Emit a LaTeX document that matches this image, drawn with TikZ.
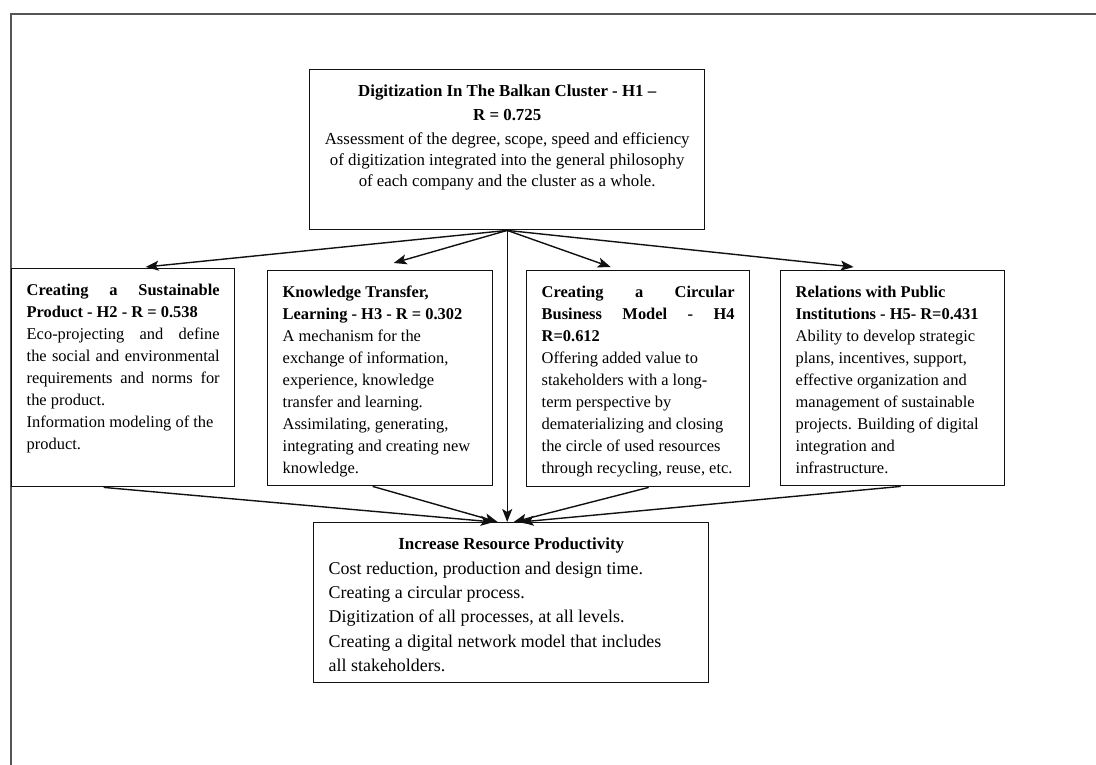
\documentclass[tikz,border=0pt]{standalone}
\usepackage{fontspec}
\setmainfont{Liberation Serif}
\usetikzlibrary{arrows.meta}
\definecolor{ink}{HTML}{111111}
\definecolor{frame}{HTML}{555555}
\newcommand{\firstline}{\rule{0pt}{21bp}}

\begin{document}
\begin{tikzpicture}[x=1bp,y=-1bp,>={Stealth[length=13bp,width=10bp,inset=3bp]},
  every node/.style={font=\fontsize{16.5}{22}\selectfont},
  hyp/.style={draw=ink,line width=1.4bp,anchor=north west,inner xsep=15bp,inner ysep=6bp},
  link/.style={->,ink,line width=1.4bp}]
\useasboundingbox (0,0) rectangle (1096,765);
\draw[frame,line width=1.5bp] (11,765) -- (11,14) -- (1096,14);

% main hypothesis
\node[hyp] (h1) at (309,69) {\parbox[c][148bp][t]{365bp}{\centering\fontsize{16.9}{21}\selectfont
  \firstline\textbf{Digitization In The Balkan Cluster - H1 –}\\[3bp]
  \textbf{R = 0.725}\\[3bp]
  Assessment of the degree, scope, speed and efficiency\\
  of digitization integrated into the general philosophy\\
  of each company and the cluster as a whole.}};

% sub-hypotheses
\node[hyp] (h2) at (11,268) {\parbox[c][206bp][t]{193bp}{\raggedright
  \firstline\makebox[\linewidth][s]{\bfseries Creating a Sustainable}\\
  \textbf{Product - H2 - R = 0.538}\\
  \makebox[\linewidth][s]{Eco-projecting and define}\\
  \makebox[\linewidth][s]{the social and environmental}\\
  \makebox[\linewidth][s]{requirements and norms for}\\
  the product.\\
  Information modeling of the\\
  product.}};
\node[hyp] (h3) at (267,270) {\parbox[c][203bp][t]{195bp}{\raggedright
  \firstline\textbf{Knowledge Transfer,}\\
  \textbf{Learning - H3 - R = 0.302}\\
  A mechanism for the\\
  exchange of information,\\
  experience, knowledge\\
  transfer and learning.\\
  Assimilating, generating,\\
  integrating and creating new\\
  knowledge.}};
\node[hyp] (h4) at (526,270) {\parbox[c][204bp][t]{193bp}{\raggedright
  \firstline\makebox[\linewidth][s]{\bfseries Creating a Circular}\\
  \makebox[\linewidth][s]{\bfseries Business Model - H4}\\
  \textbf{R=0.612}\\
  Offering added value to\\
  stakeholders with a long-\\
  term perspective by\\
  dematerializing and closing\\
  the circle of used resources\\
  \mbox{through recycling, reuse, etc.}}};
\node[hyp] (h5) at (780,270) {\parbox[c][203bp][t]{194bp}{\raggedright
  \firstline\textbf{Relations with Public}\\
  \textbf{Institutions - H5- R=0.431}\\
  Ability to develop strategic\\
  plans, incentives, support,\\
  effective organization and\\
  management of sustainable\\
  projects. Building of digital\\
  integration and\\
  infrastructure.}};

% outcome
\node[hyp] (res) at (313,522) {\parbox[c][148bp][t]{365bp}{\fontsize{18}{24.5}\selectfont
  {\centering\fontsize{17}{24.5}\selectfont\firstline\textbf{Increase Resource Productivity}\par}
  \raggedright
  Cost reduction, production and design time.\\
  Creating a circular process.\\
  Digitization of all processes, at all levels.\\
  Creating a digital network model that includes\\
  all stakeholders.}};

\draw[link] (h1.south) -- ([xshift=22.5bp,yshift=1bp]h2.north);
\draw[link] (h1.south) -- ([xshift=13.5bp,yshift=7bp]h3.north);
\draw[link] (h1.south) -- ([xshift=-27.5bp,yshift=3bp]h4.north);
\draw[link] (h1.south) -- ([xshift=-39bp,yshift=3bp]h5.north);
\draw[link] (h1.south) -- (h1.south |- res.north);
\draw[link] ([xshift=-19.5bp]h2.south) -- ([xshift=-17.5bp]res.north);
\draw[link] ([xshift=-7.5bp]h3.south) -- ([xshift=-13.5bp]res.north);
\draw[link] ([xshift=10.5bp]h4.south) -- ([xshift=2.5bp]res.north);
\draw[link] ([xshift=8bp]h5.south) -- ([xshift=9.5bp]res.north);
\end{tikzpicture}
\end{document}
